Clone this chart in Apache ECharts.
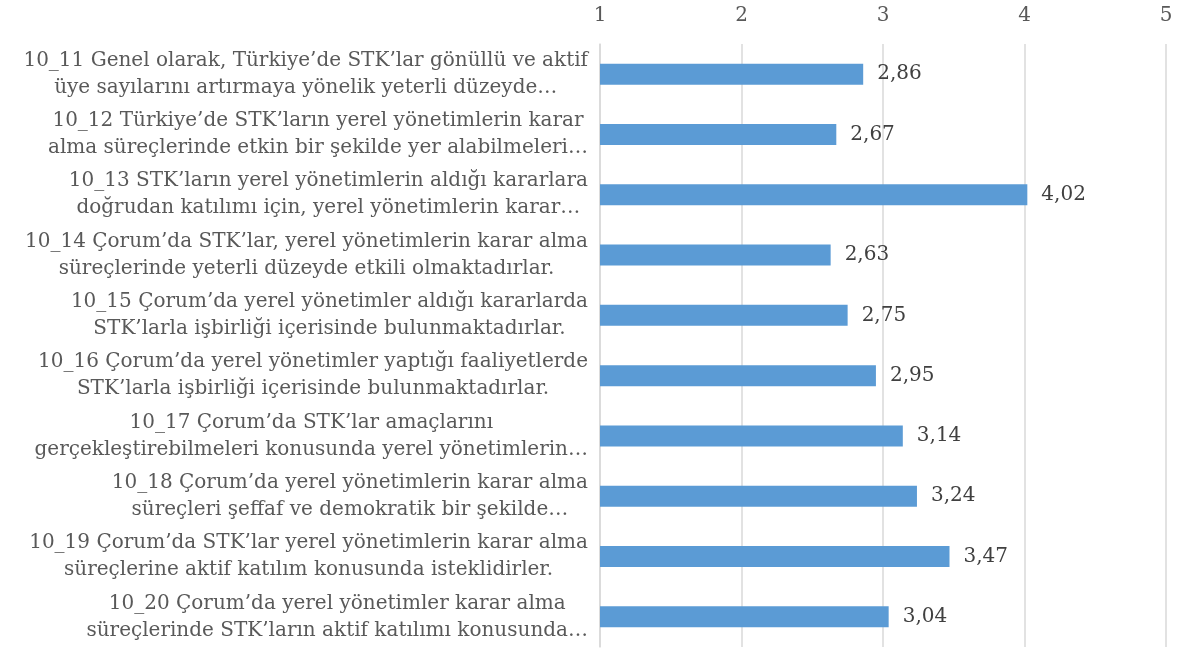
<!DOCTYPE html>
<html>
<head>
<meta charset="utf-8">
<script src="https://cdn.jsdelivr.net/npm/echarts@6/dist/echarts.min.js"></script>
<style>
html,body{margin:0;padding:0;background:#fff;}
#chart{width:1185px;height:650px;}
</style>
</head>
<body>
<div id="chart"></div>
<script>
const categories = [
  ["10_11 Genel olarak, Türkiye’de STK’lar gönüllü ve aktif", "üye sayılarını artırmaya yönelik yeterli düzeyde…"],
  ["10_12 Türkiye’de STK’ların yerel yönetimlerin karar", "alma süreçlerinde etkin bir şekilde yer alabilmeleri…"],
  ["10_13 STK’ların yerel yönetimlerin aldığı kararlara", "doğrudan katılımı için, yerel yönetimlerin karar…"],
  ["10_14 Çorum’da STK’lar, yerel yönetimlerin karar alma", "süreçlerinde yeterli düzeyde etkili olmaktadırlar."],
  ["10_15 Çorum’da yerel yönetimler aldığı kararlarda", "STK’larla işbirliği içerisinde bulunmaktadırlar."],
  ["10_16 Çorum’da yerel yönetimler yaptığı faaliyetlerde", "STK’larla işbirliği içerisinde bulunmaktadırlar."],
  ["10_17 Çorum’da STK’lar amaçlarını", "gerçekleştirebilmeleri konusunda yerel yönetimlerin…"],
  ["10_18 Çorum’da yerel yönetimlerin karar alma", "süreçleri şeffaf ve demokratik bir şekilde…"],
  ["10_19 Çorum’da STK’lar yerel yönetimlerin karar alma", "süreçlerine aktif katılım konusunda isteklidirler."],
  ["10_20 Çorum’da yerel yönetimler karar alma", "süreçlerinde STK’ların aktif katılımı konusunda…"]
];
const values = [2.86, 2.67, 4.02, 2.63, 2.75, 2.95, 3.14, 3.24, 3.47, 3.04];
const axisMin = 1, axisMax = 5, axisInterval = 1;

const FONT = '"DejaVu Serif", serif';
const chart = echarts.init(document.getElementById('chart'));
chart.setOption({
  animation: false,
  backgroundColor: '#ffffff',
  grid: { left: 600, right: 19, top: 44, bottom: 3, containLabel: false },
  xAxis: {
    type: 'value', position: 'top', min: axisMin, max: axisMax, interval: axisInterval,
    axisLine: { show: false }, axisTick: { show: false },
    splitLine: { show: true, lineStyle: { color: '#d9d9d9', width: 1.5 } },
    axisLabel: { color: '#595959', fontFamily: FONT, fontSize: 20, margin: 18 }
  },
  yAxis: {
    type: 'category', inverse: true,
    data: categories.map(c => c.join('\n')),
    axisLine: { show: true, lineStyle: { color: '#d9d9d9', width: 1.5 } },
    axisTick: { show: false },
    axisLabel: {
      margin: 12,
      formatter: v => v.split('\n').map(l => '{a|' + l + '}').join('\n'),
      rich: { a: { align: 'center', color: '#595959', fontFamily: FONT, fontSize: 20, lineHeight: 27 } }
    }
  },
  series: [{
    type: 'bar', data: values, barWidth: 21,
    itemStyle: { color: '#5b9bd5' },
    label: {
      show: true, position: 'right', distance: 14, color: '#404040',
      fontFamily: FONT, fontSize: 20,
      formatter: p => p.value.toFixed(2).replace('.', ',')
    }
  }]
});
</script>
</body>
</html>
